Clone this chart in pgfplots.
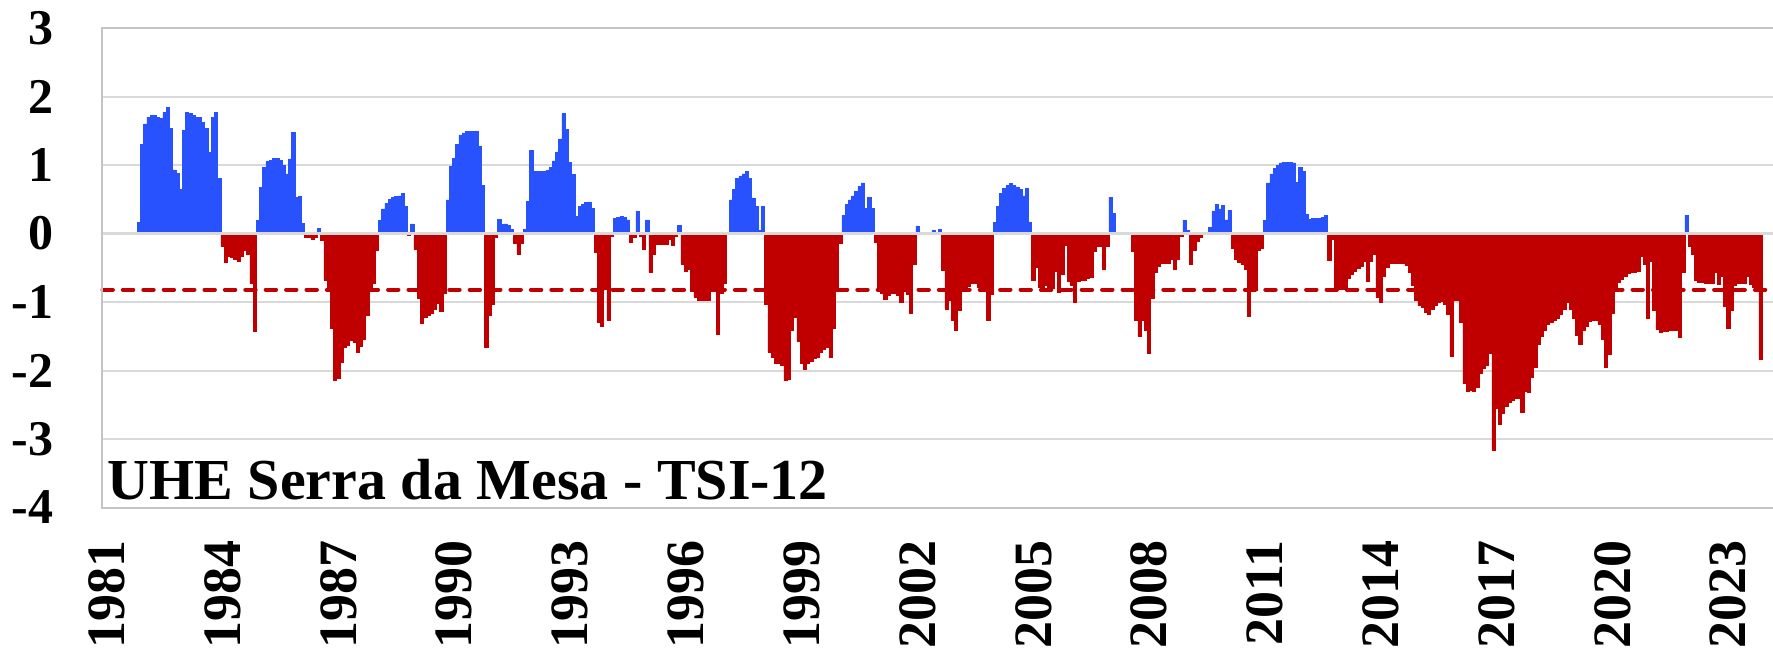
\documentclass[border=0pt]{standalone}
\usepackage{fontspec}
\setmainfont{Liberation Serif}
\usepackage{pgfplots}
\usepackage{pgfplotstable}
\pgfplotsset{compat=1.18}
\definecolor{barblue}{RGB}{41,82,255}
\definecolor{barred}{RGB}{192,0,0}
\definecolor{gridc}{RGB}{217,217,217}
\definecolor{framec}{RGB}{196,196,196}
% m = months since Jan 1981 (0 = Jan 1981), v = TSI-12
\pgfplotstableread{
m v
10 0.16
11 1.30
12 1.60
13 1.70
14 1.72
15 1.73
16 1.70
17 1.68
18 1.77
19 1.84
20 1.54
21 0.93
22 0.88
23 0.64
24 1.50
25 1.77
26 1.75
27 1.72
28 1.69
29 1.69
30 1.62
31 1.53
32 1.18
33 1.70
34 1.77
35 0.81
36 -0.19
37 -0.42
38 -0.33
39 -0.35
40 -0.38
41 -0.40
42 -0.34
43 -0.25
44 -0.30
45 -0.73
46 -1.43
47 0.19
48 0.67
49 0.97
50 1.05
51 1.07
52 1.10
53 1.10
54 1.07
55 0.99
56 0.87
57 1.09
58 1.48
59 0.53
60 0.54
61 0.15
62 -0.05
63 -0.06
64 -0.08
65 -0.05
66 0.07
67 -0.10
68 -0.68
69 -0.78
70 -1.39
71 -2.15
72 -2.12
73 -1.88
74 -1.66
75 -1.63
76 -1.56
77 -1.59
78 -1.74
79 -1.64
80 -1.55
81 -1.19
82 -0.84
83 -0.72
84 -0.25
85 0.19
86 0.36
87 0.44
88 0.50
89 0.53
90 0.54
91 0.55
92 0.58
93 0.40
94 -0.03
95 0.14
96 -0.23
97 -0.94
98 -1.31
99 -1.22
100 -1.20
101 -1.16
102 -1.11
103 -1.02
104 -1.14
105 -0.87
106 0.49
107 0.98
108 1.10
109 1.30
110 1.44
111 1.47
112 1.49
113 1.49
114 1.49
115 1.49
116 1.27
117 0.70
118 -1.66
119 -1.20
120 -1.04
121 -0.05
122 0.21
123 0.13
124 0.14
125 0.12
126 0.06
127 -0.14
128 -0.30
129 -0.15
130 0.06
131 0.47
132 1.21
133 0.91
134 0.91
135 0.91
136 0.91
137 0.92
138 0.96
139 1.06
140 1.19
141 1.38
142 1.75
143 1.52
144 1.04
145 0.86
146 0.25
147 0.40
148 0.43
149 0.45
150 0.46
151 0.37
152 -0.27
153 -1.30
154 -1.36
155 -0.82
156 -1.27
157 -0.04
158 0.22
159 0.24
160 0.25
161 0.24
162 0.20
163 -0.13
164 -0.06
165 0.32
166 -0.04
167 -0.23
168 0.20
169 -0.57
170 -0.31
171 -0.16
172 -0.16
173 -0.16
174 -0.16
175 -0.09
176 -0.17
177 -0.04
178 0.12
179 -0.45
180 -0.55
181 -0.52
182 -0.85
183 -0.93
184 -0.98
185 -0.97
186 -0.97
187 -0.98
188 -0.85
189 -0.82
190 -1.47
191 -0.88
192 -0.73
194 0.49
195 0.64
196 0.80
197 0.84
198 0.87
199 0.91
200 0.81
201 0.52
202 0.40
203 0.05
204 0.40
205 -1.03
206 -1.73
207 -1.80
208 -1.90
209 -1.90
210 -1.92
211 -2.15
212 -2.13
213 -1.41
214 -1.22
215 -1.57
216 -1.90
217 -1.98
218 -1.90
219 -1.86
220 -1.82
221 -1.81
222 -1.74
223 -1.69
224 -1.66
225 -1.81
226 -1.39
227 -0.83
228 -0.15
229 0.26
230 0.43
231 0.49
232 0.55
233 0.62
234 0.69
235 0.74
236 0.37
237 0.53
238 0.37
239 -0.13
240 -0.82
241 -0.88
242 -0.96
243 -0.90
244 -0.88
245 -0.88
246 -0.90
247 -1.00
248 -0.79
249 -0.89
250 -1.17
251 -0.45
252 0.11
257 0.04
259 0.06
260 -0.54
261 -1.10
262 -0.98
263 -1.27
264 -1.42
265 -1.12
266 -0.84
267 -0.84
268 -0.77
269 -0.73
270 -0.72
271 -0.78
272 -0.85
273 -0.85
274 -1.27
275 -0.89
276 0.16
277 0.40
278 0.58
279 0.66
280 0.70
281 0.73
282 0.70
283 0.68
284 0.64
285 0.55
286 0.66
287 0.16
288 -0.68
289 -0.50
290 -0.78
291 -0.78
292 -0.76
293 -0.78
294 -0.80
295 -0.55
296 -0.86
297 -0.60
298 -0.17
299 -0.70
300 -0.75
301 -1.01
302 -0.70
303 -0.69
304 -0.68
305 -0.65
306 -0.64
307 -0.26
308 -0.19
309 -0.18
310 -0.52
311 -0.18
312 0.53
313 0.29
319 -0.26
320 -1.27
321 -1.50
322 -1.27
323 -1.41
324 -1.75
325 -0.95
326 -0.57
327 -0.48
328 -0.44
329 -0.43
330 -0.43
331 -0.38
332 -0.52
333 -0.38
334 -0.04
335 0.19
336 0.04
337 -0.45
338 -0.24
339 -0.12
340 -0.05
343 0.09
344 0.33
345 0.43
346 0.36
347 0.41
348 0.20
349 0.34
350 -0.22
351 -0.37
352 -0.42
353 -0.45
354 -0.52
355 -1.21
356 -0.83
357 -0.83
358 -0.24
359 -0.22
360 0.19
361 0.74
362 0.87
363 0.95
364 1.00
365 1.03
366 1.04
367 1.04
368 1.04
369 1.03
370 0.75
371 0.96
372 0.91
373 0.28
374 0.21
375 0.22
376 0.22
377 0.22
378 0.23
379 0.26
380 -0.39
381 -0.09
382 -0.82
383 -0.82
384 -0.82
385 -0.82
386 -0.65
387 -0.60
388 -0.55
389 -0.51
390 -0.48
391 -0.41
392 -0.70
393 -0.40
394 -0.31
395 -0.93
396 -1.00
397 -0.63
398 -0.50
399 -0.43
400 -0.43
401 -0.43
402 -0.43
403 -0.43
404 -0.47
405 -0.56
406 -0.75
407 -0.98
408 -1.05
409 -1.08
410 -1.15
411 -1.18
412 -1.10
413 -1.05
414 -1.00
415 -0.99
416 -1.03
417 -1.18
418 -1.79
419 -0.97
420 -0.97
421 -1.30
422 -2.19
423 -2.30
424 -2.29
425 -2.30
426 -2.24
427 -2.04
428 -1.97
429 -1.92
430 -1.75
431 -3.16
432 -2.55
433 -2.78
434 -2.63
435 -2.52
436 -2.47
437 -2.43
438 -2.41
439 -2.40
440 -2.61
441 -2.31
442 -2.32
443 -2.10
444 -1.96
445 -1.62
446 -1.50
447 -1.41
448 -1.33
449 -1.29
450 -1.27
451 -1.24
452 -1.18
453 -1.10
454 -1.00
455 -1.10
456 -1.24
457 -1.48
458 -1.62
459 -1.42
460 -1.35
461 -1.28
462 -1.26
463 -1.26
464 -1.32
465 -1.55
466 -1.95
467 -1.76
468 -1.16
469 -0.84
470 -0.71
471 -0.67
472 -0.62
473 -0.58
474 -0.56
475 -0.56
476 -0.55
477 -0.33
478 -0.45
479 -1.24
480 -0.40
481 -1.12
482 -1.40
483 -1.44
484 -1.43
485 -1.43
486 -1.42
487 -1.42
488 -1.42
489 -1.52
490 -0.57
491 0.27
492 -0.19
493 -0.31
494 -0.69
495 -0.71
496 -0.71
497 -0.72
498 -0.72
499 -0.73
500 -0.56
501 -0.74
502 -0.62
503 -1.06
504 -1.39
505 -1.12
506 -0.76
507 -0.73
508 -0.73
509 -0.73
510 -0.62
511 -0.74
512 -0.79
513 -0.79
514 -1.84
}\tsidata
\begin{document}
\begin{tikzpicture}
\begin{axis}[
  at={(0pt,0pt)}, anchor=south west,
  scale only axis, width=417.75pt, height=119.875pt,
  xmin=-1.45, xmax=517.9, ymin=-4, ymax=3,
  clip=false,
  axis line style={draw=none},
  ytick={-4,-3,-2,-1,0,1,2,3},
  yticklabels={-4,-3,-2,-1,0,1,2,3},
  xtick={0,36,...,504},
  xticklabels={1981,1984,1987,1990,1993,1996,1999,2002,2005,2008,2011,2014,2017,2020,2023},
  major tick length=0pt,
  ymajorgrids, grid style={gridc, line width=0.5pt},
  yticklabel style={font=\bfseries\fontsize{12.5}{12.5}\selectfont, anchor=east, inner sep=0pt},
  yticklabel shift=11.9pt,
  xticklabel style={font=\bfseries\fontsize{13.5}{13.5}\selectfont, rotate=90, anchor=east, inner sep=0pt},
  xticklabel shift=8.1pt,
]
\addplot[ybar, bar width=1, bar shift=0pt, fill=barblue, draw=barblue, line width=0.15pt, restrict y to domain=0:5] table[x=m,y=v]{\tsidata};
\addplot[ybar, bar width=1, bar shift=0pt, fill=barred, draw=barred, line width=0.15pt, restrict y to domain=-5:0] table[x=m,y=v]{\tsidata};
\addplot[barred, line width=1pt, dash pattern=on 2.6pt off 2.5pt, line cap=round] coordinates {(-1.3,-0.82) (517.9,-0.82)};
\draw[gridc, line width=0.65pt] (axis cs:-1.45,0) -- (axis cs:517.9,0);
\draw[framec, line width=0.5pt] (rel axis cs:1,1) -- (rel axis cs:0,1) -- (rel axis cs:0,0) -- (rel axis cs:1,0);
\node[anchor=base west, inner sep=0pt, xshift=1.25pt, yshift=2.1pt, font=\bfseries\fontsize{14.5}{14.5}\selectfont] at (rel axis cs:0,0) {UHE Serra da Mesa - TSI-12};
\end{axis}
\pgfresetboundingbox
\path (-25.5pt,-36.625pt) rectangle (417.75pt,126.875pt);
\end{tikzpicture}
\end{document}
